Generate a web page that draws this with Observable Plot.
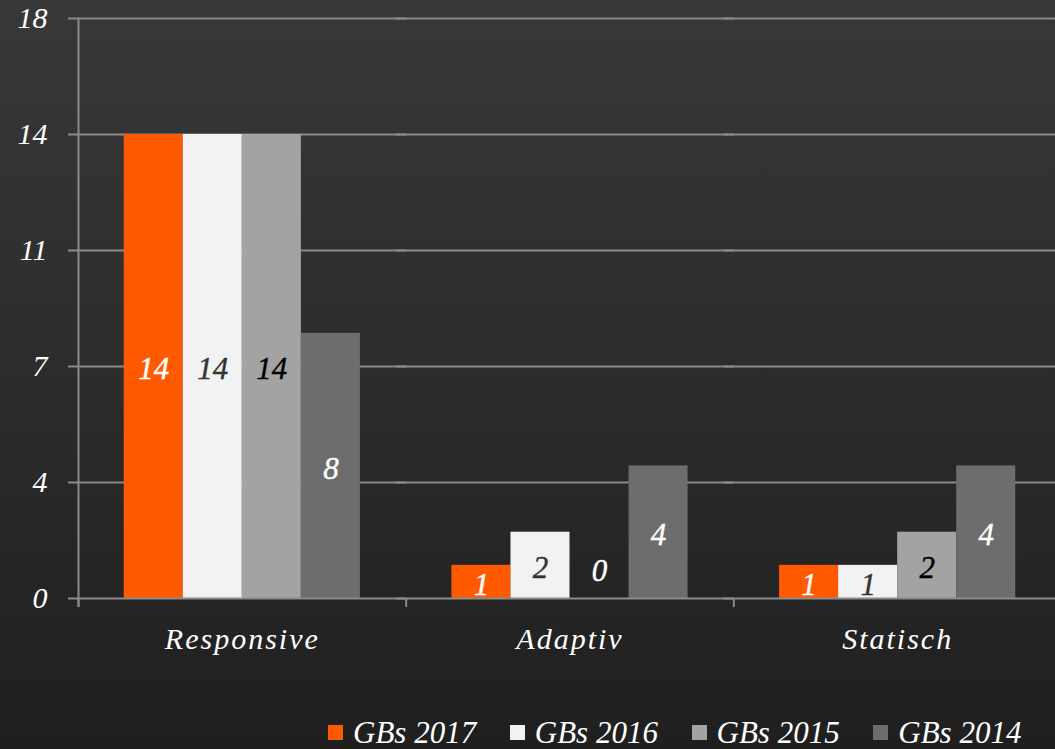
<!DOCTYPE html>
<html><head><meta charset="utf-8">
<script src="https://cdn.jsdelivr.net/npm/d3@7"></script>
<script src="https://cdn.jsdelivr.net/npm/@observablehq/plot@0.6"></script>
<style>
html,body{margin:0;padding:0;width:1055px;height:749px;overflow:hidden;}
body{background:linear-gradient(to bottom,#383838 0%,#2c2c2c 50%,#1f1f1f 100%);font-family:"Liberation Serif",serif;font-style:italic;color:#fff;}
#chart{width:1061px;height:707px;}
#chart svg{display:block;overflow:visible;max-width:none;width:1061px;height:707px;}
.chart g[aria-label="fx-axis tick label"] text{letter-spacing:2px;}
#legend{display:flex;height:34px;align-items:center;padding-left:328px;padding-top:8px;font-size:31px;line-height:1;}
.item{display:flex;align-items:center;width:185px;white-space:nowrap;}
.sw{width:15px;height:15px;margin-right:10px;flex:none;}
</style></head><body><div id="chart"></div><div id="legend"></div>
<script>
// ---- data ----
const categories = ["Responsive", "Adaptiv", "Statisch"];
const series = ["GBs 2017", "GBs 2016", "GBs 2015", "GBs 2014"];
const values2017 = [14, 1, 1];
const values2016 = [14, 2, 1];
const values2015 = [14, 0, 2];
const values2014 = [8, 4, 4];
const yTickValues = [0, 3.5, 7, 10.5, 14, 17.5];
const yTickLabels = ["0", "4", "7", "11", "14", "18"];

// ---- styles ----
const barColors = ["#ff5a00", "#f2f2f2", "#a3a3a3", "#6d6d6d"];
const labelColors = ["#ffffff", "#333333", "#000000", "#ffffff"];
const gridColor = "#8a8a8a";

// ---- layout ----
const W = 1061, H = 707, ML = 78, MT = 18, MB = 109, MR = 0;
const padOuter = 0.775;
const facetW = (W - ML - MR) / categories.length;
const step = facetW / (series.length + 2 * padOuter);
const edgeDx = -(padOuter * step + step / 2);

const seriesValues = [values2017, values2016, values2015, values2014];
const rows = [];
categories.forEach((c, i) => series.forEach((s, j) => rows.push({category: c, series: s, value: seriesValues[j][i]})));
const colorOf = s => labelColors[series.indexOf(s)];

const font = "'Liberation Serif', serif";
const chart = Plot.plot({
  width: W, height: H,
  marginLeft: ML, marginRight: MR, marginTop: MT, marginBottom: MB,
  className: "chart",
  style: {background: "transparent", color: "#fff", fontFamily: font, fontStyle: "italic", fontSize: "30px"},
  fx: {domain: categories, padding: 0, round: false, label: null, tickSize: 0, tickPadding: 29},
  x: {domain: series, paddingInner: 0, paddingOuter: padOuter, round: false, axis: null},
  y: {domain: [0, 17.5], ticks: yTickValues, tickFormat: d => yTickLabels[yTickValues.indexOf(d)], tickSize: 0, tickPadding: 31, label: null},
  color: {domain: series, range: barColors},
  marks: [
    Plot.ruleY(yTickValues.slice(1), {stroke: gridColor, strokeWidth: 2, insetLeft: -10}),
    Plot.barY(rows, {fx: "category", x: "series", y: "value", fill: "series"}),
    Plot.ruleY([0], {stroke: gridColor, strokeWidth: 2, insetLeft: -10}),
    Plot.ruleX(categories, {fx: d => d, x: () => series[0], y1: 0, y2: 0, insetBottom: -9, dx: edgeDx, stroke: gridColor, strokeWidth: 2}),
    Plot.ruleX([categories[0]], {fx: d => d, x: () => series[0], y1: 17.5, y2: 0, insetBottom: -9, dx: edgeDx, stroke: gridColor, strokeWidth: 2}),
    Plot.text(rows.filter(d => d.value > 0), {fx: "category", x: "series", y: d => d.value / 2, text: d => String(d.value), dy: 3, fill: d => colorOf(d.series), stroke: d => colorOf(d.series), strokeWidth: 0.4, fontSize: 31, fontFamily: font, fontStyle: "italic"}),
    Plot.text(rows.filter(d => d.value === 0), {fx: "category", x: "series", y: "value", text: d => String(d.value), dy: -27, fill: "#fff", stroke: "#fff", strokeWidth: 0.4, fontSize: 31, fontFamily: font, fontStyle: "italic"})
  ]
});
document.getElementById("chart").appendChild(chart);

const legend = document.getElementById("legend");
series.forEach((s, j) => {
  const it = document.createElement("div");
  it.className = "item";
  const sw = document.createElement("span");
  sw.className = "sw";
  sw.style.background = barColors[j];
  const tx = document.createElement("span");
  tx.textContent = s;
  it.appendChild(sw); it.appendChild(tx);
  legend.appendChild(it);
});
</script></body></html>
